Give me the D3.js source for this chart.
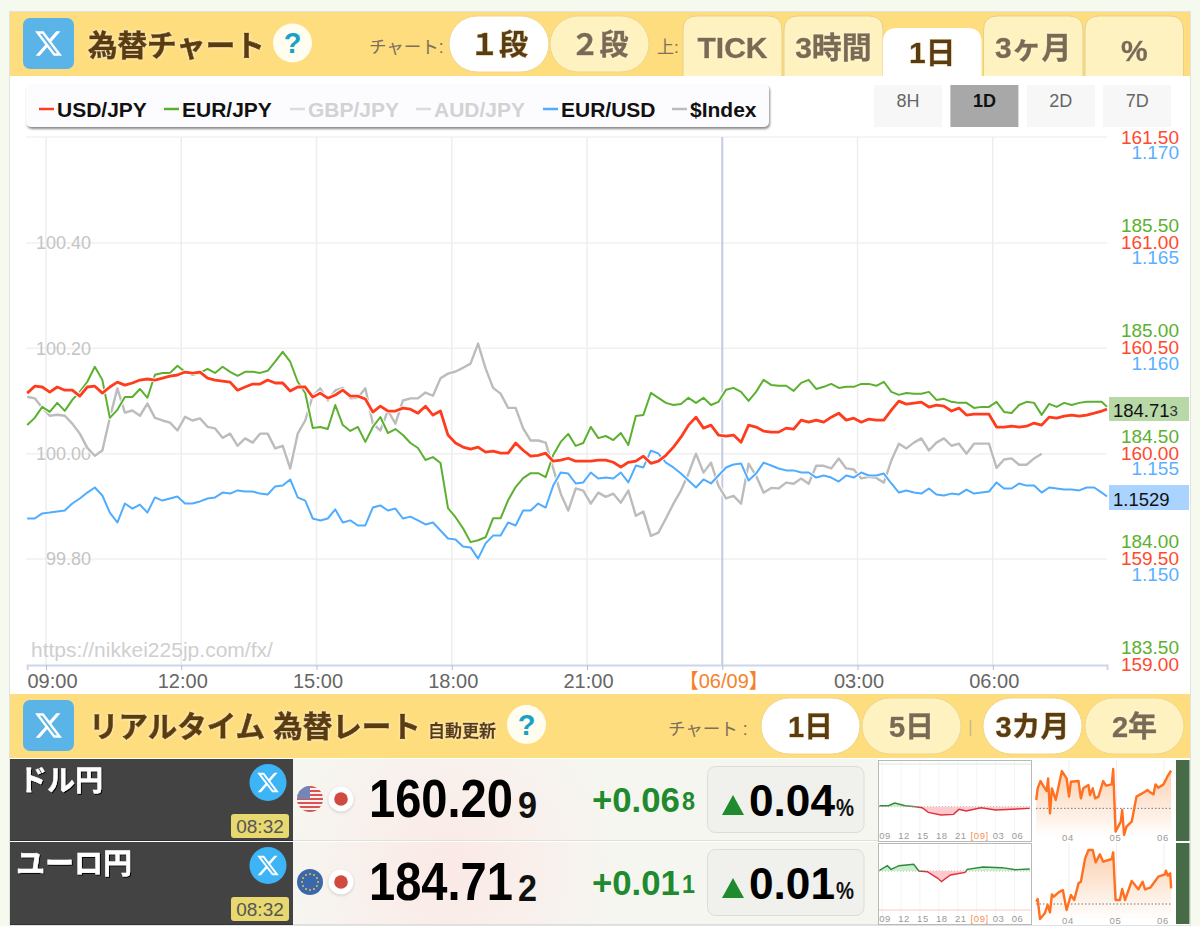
<!DOCTYPE html>
<html lang="ja"><head><meta charset="utf-8"><title>為替チャート</title>
<script src="https://cdn.jsdelivr.net/npm/d3@7"></script>
<style>
html,body{margin:0;padding:0;background:#f5f9ee;overflow:hidden}
svg{display:block}
text{font-family:"Liberation Sans","Noto Sans CJK JP",sans-serif}
</style></head><body><div id="chart"></div>
<script>
// ---------- data ----------
const tickMinutes=[0,180,360,540,720,900,1080,1260];
const tickLabels=["09:00","12:00","15:00","18:00","21:00","【06/09】","03:00","06:00"];
const sampleMinutes=d3.range(-25,1406,10).concat([1412]);
const usdJpy=[160.285,160.318,160.314,160.290,160.314,160.299,160.299,160.271,160.314,160.318,160.285,160.314,160.337,160.323,160.333,160.347,160.352,160.347,160.356,160.366,160.371,160.385,160.380,160.385,160.356,160.347,160.342,160.337,160.299,160.314,160.328,160.328,160.347,160.333,160.333,160.295,160.314,160.314,160.266,160.285,160.261,160.276,160.299,160.271,160.271,160.257,160.195,160.223,160.200,160.200,160.214,160.209,160.190,160.223,160.181,160.200,160.086,160.048,160.029,160.019,160.029,160.005,160.010,160.000,160.000,160.048,160.014,159.986,159.990,160.000,159.962,159.967,159.976,159.962,159.962,159.962,159.967,159.967,159.957,159.934,159.957,159.962,159.986,159.952,159.962,159.990,160.029,160.076,160.133,160.171,160.119,160.133,160.086,160.081,160.086,160.052,160.133,160.124,160.105,160.100,160.100,160.119,160.114,160.157,160.147,160.157,160.147,160.171,160.190,160.157,160.166,160.147,160.162,160.157,160.157,160.204,160.247,160.233,160.238,160.242,160.219,160.228,160.223,160.200,160.214,160.181,160.185,160.185,160.185,160.124,160.124,160.128,160.124,160.128,160.143,160.133,160.171,160.166,160.176,160.181,160.176,160.181,160.190,160.200,160.209];
const eurJpy=[184.552,184.586,184.638,184.614,184.657,184.619,184.671,184.709,184.757,184.828,184.766,184.586,184.624,184.685,184.685,184.723,184.681,184.790,184.799,184.799,184.833,184.804,184.790,184.799,184.818,184.799,184.828,184.804,184.785,184.804,184.804,184.799,184.809,184.852,184.899,184.852,184.757,184.704,184.538,184.543,184.533,184.647,184.552,184.524,184.543,184.472,184.543,184.590,184.514,184.533,184.505,184.467,184.443,184.386,184.400,184.372,184.158,184.115,184.063,183.997,184.006,184.020,184.110,184.110,184.196,184.258,184.300,184.324,184.324,184.305,184.410,184.472,184.510,184.453,184.467,184.543,184.490,184.500,184.481,184.514,184.457,184.595,184.600,184.704,184.681,184.657,184.647,184.652,184.681,184.657,184.681,184.647,184.662,184.719,184.728,184.709,184.666,184.709,184.766,184.742,184.738,184.738,184.714,184.752,184.766,184.723,184.733,184.747,184.728,184.733,184.733,184.747,184.747,184.738,184.757,184.709,184.695,184.704,184.700,184.700,184.709,184.671,184.676,184.662,184.657,184.657,184.633,184.638,184.638,184.662,184.614,184.609,184.647,184.662,184.657,184.600,184.652,184.638,184.657,184.647,184.657,184.662,184.662,184.662,184.638];
const eurUsd=[1.15263,1.15263,1.15287,1.15291,1.15296,1.15301,1.15334,1.15358,1.15386,1.15410,1.15372,1.15291,1.15244,1.15334,1.15310,1.15329,1.15291,1.15363,1.15348,1.15358,1.15367,1.15334,1.15334,1.15344,1.15358,1.15363,1.15386,1.15381,1.15396,1.15391,1.15391,1.15381,1.15377,1.15415,1.15419,1.15448,1.15363,1.15348,1.15263,1.15254,1.15263,1.15306,1.15244,1.15254,1.15230,1.15230,1.15315,1.15325,1.15301,1.15310,1.15263,1.15272,1.15254,1.15235,1.15244,1.15206,1.15168,1.15163,1.15130,1.15126,1.15073,1.15145,1.15182,1.15182,1.15244,1.15230,1.15301,1.15301,1.15334,1.15315,1.15419,1.15481,1.15476,1.15429,1.15434,1.15481,1.15453,1.15457,1.15453,1.15481,1.15434,1.15514,1.15505,1.15585,1.15571,1.15528,1.15505,1.15476,1.15443,1.15410,1.15448,1.15429,1.15467,1.15505,1.15519,1.15524,1.15443,1.15476,1.15528,1.15514,1.15500,1.15491,1.15491,1.15481,1.15481,1.15457,1.15467,1.15457,1.15438,1.15467,1.15457,1.15481,1.15467,1.15467,1.15476,1.15429,1.15386,1.15396,1.15386,1.15381,1.15405,1.15377,1.15372,1.15381,1.15377,1.15400,1.15381,1.15386,1.15391,1.15434,1.15405,1.15405,1.15429,1.15419,1.15419,1.15386,1.15410,1.15405,1.15400,1.15400,1.15396,1.15410,1.15410,1.15386,1.15367];
const dollarIndex=[100.108,100.105,100.087,100.072,100.074,100.072,100.057,100.038,100.011,99.996,100.006,100.068,100.124,100.078,100.082,100.072,100.095,100.068,100.063,100.059,100.044,100.070,100.063,100.067,100.051,100.048,100.030,100.038,100.015,100.029,100.021,100.038,100.038,100.010,100.015,99.972,100.038,100.063,100.110,100.124,100.101,100.120,100.125,100.105,100.106,100.124,100.057,100.044,100.082,100.057,100.101,100.105,100.105,100.116,100.110,100.143,100.152,100.156,100.163,100.171,100.209,100.162,100.125,100.114,100.087,100.087,100.048,100.025,100.025,100.021,99.972,99.924,99.892,99.934,99.930,99.905,99.926,99.918,99.924,99.907,99.930,99.882,99.890,99.844,99.850,99.877,99.905,99.930,99.962,100.000,99.964,99.983,99.939,99.915,99.920,99.905,99.981,99.958,99.926,99.935,99.934,99.945,99.943,99.953,99.943,99.977,99.977,99.972,99.991,99.972,99.970,99.953,99.956,99.954,99.945,99.987,100.019,100.010,100.021,100.029,100.006,100.021,100.029,100.015,100.019,100.000,100.019,100.019,100.019,99.973,99.989,99.991,99.979,99.979,99.991,100.000];
const usdTicks=[159,159.5,160,160.5,161,161.5];
const eurJpyTicks=[183.5,184,184.5,185,185.5];
const eurUsdTicks=[1.15,1.155,1.16,1.165,1.17];
const indexTicks=[99.8,100,100.2,100.4];
const legendNames=["USD/JPY","EUR/JPY","GBP/JPY","AUD/JPY","EUR/USD","$Index"];
const rangeNames=["8H","1D","2D","7D"];
// mini day charts: change from previous close, against minutes from 09:00
const miniMinutes1=[-25,60,120,220,320,380,440,560,680,730,800,940,1080,1405];
const miniChange1=[0.025,0.025,0.092,0.025,0,-0.025,-0.142,-0.208,-0.192,-0.067,-0.108,-0.025,-0.083,-0.042];
const miniMinutes2=[-25,50,85,160,300,350,430,530,565,650,790,810,960,1140,1270,1405];
const miniChange2=[0.017,0.133,0.042,0.133,0.167,0,-0.017,-0.183,-0.267,-0.1,-0.033,0.042,0.1,0.083,0.033,0.05];
const miniTickMinutes=[0,180,360,540,720,900,1080,1260];
const miniTickLabels=["09","12","15","18","21","[09]","03","06"];
// three-month charts: month number and rate
const monthT1=[3.31,3.34,3.40,3.47,3.53,3.56,3.60,3.64,3.72,3.85,3.95,4.00,4.04,4.20,4.25,4.30,4.41,4.44,4.50,4.55,4.62,4.72,4.78,4.90,4.93,4.98,5.09,5.12,5.16,5.21,5.32,5.42,5.60,5.65,5.69,5.78,5.82,5.88,5.99,6.07,6.15];
const monthV1=[156.25,157.82,158.81,158.05,157.46,159.17,154.45,157.82,156.25,160.16,159.17,156.70,158.72,158.81,156.47,157.82,158.27,156.92,157.82,156.47,156.70,158.81,158.18,158.36,160.43,151.97,153.32,154.90,151.52,152.65,153.32,156.70,157.37,157.60,157.37,157.01,158.36,157.91,158.36,159.40,160.21];
const monthT2=[3.31,3.34,3.39,3.49,3.55,3.60,3.64,3.68,3.78,3.87,3.95,4.04,4.11,4.20,4.25,4.34,4.41,4.50,4.56,4.65,4.72,4.90,4.93,4.98,5.07,5.12,5.18,5.32,5.46,5.55,5.60,5.71,5.88,6.02,6.04,6.08,6.13,6.15];
const monthV2=[182.71,183.11,180.11,180.96,182.21,181.11,183.81,183.46,184.11,184.46,181.46,183.71,182.96,185.46,185.71,189.21,190.46,190.46,188.61,189.81,188.71,189.11,190.11,182.96,182.96,184.61,182.96,185.81,184.56,185.71,184.56,184.81,186.46,186.81,187.36,186.61,186.96,184.71];
const monthTicks=[4,5,6];
const monthLabels=["04","05","06"];
const rowNames=["ドル円","ユーロ円"];
const rowPrices=["160.20","184.71"];
const rowPriceLast=["9","2"];
const rowChanges=["+0.06","+0.01"];
const rowChangeLast=["8","1"];
const rowPercents=["0.04","0.01"];
const rowTimes=["08:32","08:32"];

// ---------- palette ----------
const RED="#ff3c1e",GREEN="#5cb030",BLUE="#4facff",GREY="#bcbcbc",BROWN="#5c3a10",CREAM="#fef3c0",YELLOW="#fedd7f";
const xLogo="M18.244 2.25h3.308l-7.227 8.26 8.502 11.24H16.17l-5.214-6.817L4.99 21.75H1.68l7.73-8.835L1.254 2.25H8.08l4.713 6.231zm-1.161 17.52h1.833L7.084 4.126H5.117z";

const svg=d3.select("#chart").append("svg").attr("width",1200).attr("height",926);
const defs=svg.append("defs");
function shadow(id,dx,dy,blur,col){
  const f=defs.append("filter").attr("id",id).attr("x","-20%").attr("y","-30%").attr("width","140%").attr("height","160%");
  f.append("feDropShadow").attr("dx",dx).attr("dy",dy).attr("stdDeviation",blur).attr("flood-color",col);
}
shadow("glow",0,0,1.4,"#fff6d0");
shadow("legendShadow",1,2,1,"#8a8a8a");
shadow("darkShadow",1,1,0.6,"#000");
shadow("softShadow",0,1,1.5,"#c9c9c9");
const pink=defs.append("radialGradient").attr("id","pink").attr("gradientUnits","userSpaceOnUse").attr("cx",450).attr("cy",865).attr("r",170);
pink.append("stop").attr("offset",0).attr("stop-color","#fbe9e6");
pink.append("stop").attr("offset",1).attr("stop-color","#f6f6f1");
const orangeFade=defs.append("linearGradient").attr("id","orangeFade").attr("x1",0).attr("x2",0).attr("y1",0).attr("y2",1);
orangeFade.append("stop").attr("offset",0).attr("stop-color","#fbd0b0");
orangeFade.append("stop").attr("offset",1).attr("stop-color","#ffffff");

function label(g,x,y,t,size,col,opt={}){
  const s=g.append("text").attr("x",x).attr("y",y).attr("dominant-baseline","central")
    .attr("text-anchor",opt.anchor||"middle").attr("font-size",size).attr("fill",col)
    .attr("font-weight",opt.bold?"bold":"normal").attr("filter",opt.filter||null)
    .attr("letter-spacing",opt.ls||null).text(t);
  if(opt.heavy) s.attr("stroke",col).attr("stroke-width",opt.heavy);
  if(opt.len){
    const w=s.node().getComputedTextLength();
    s.attr("transform",`translate(${x},0) scale(${opt.len/w},1) translate(${-x},0)`);
  }
  return s;
}
function xIcon(g,x,y,w,h,r,bg,glyph){
  g.append("rect").attr("x",x).attr("y",y).attr("width",w).attr("height",h).attr("rx",r).attr("fill",bg);
  g.append("path").attr("d",xLogo).attr("fill","#fff").attr("transform",`translate(${x+w/2-glyph*12},${y+h/2-glyph*12}) scale(${glyph})`);
}
function pill(g,x,y,w,h,on,t,size){
  g.append("rect").attr("x",x).attr("y",y).attr("width",w).attr("height",h).attr("rx",h/2)
    .attr("fill",on?"#fff":CREAM).attr("stroke","#f0d68c").attr("stroke-width",1);
  label(g,x+w/2,y+h/2+1,t,size,on?BROWN:"#7a6a55",{bold:true,filter:"url(#glow)",heavy:.5});
}
function helpBubble(g,cx,cy){
  g.append("ellipse").attr("cx",cx).attr("cy",cy).attr("rx",19.5).attr("ry",19.5).attr("fill","#fffdf0");
  label(g,cx,cy,"?",29,"#17a3c9",{bold:true});
}

// ---------- frame ----------
const frame=svg.append("g");
frame.append("rect").attr("x",9.5).attr("y",11.5).attr("width",1181).attr("height",914).attr("fill","#fff").attr("stroke","#e2e2e2");

// ---------- top header ----------
const head=svg.append("g");
head.append("rect").attr("x",10).attr("y",12).attr("width",1180).attr("height",64).attr("fill",YELLOW);
xIcon(head,23,18,51,51,7,"#5ab4e8",1.25);
label(head,88,45,"為替チャート",29.5,BROWN,{anchor:"start",bold:true,filter:"url(#glow)",heavy:.7});
helpBubble(head,292.5,43);
label(head,369,47,"チャート:",17.5,"#7d6f5c",{anchor:"start"});
pill(head,449,16,100,56,true,"１段",29);
pill(head,550,16,99,56,false,"２段",29);
label(head,657,47,"上:",17,"#7d6f5c",{anchor:"start"});
const tabData=[["TICK",683,99,false,47],["3時間",784,99,false,47],["1日",883,98.5,true,52],["3ヶ月",983.5,99.5,false,47],["%",1085,98.5,false,50]];
tabData.forEach(([t,x,w,on,cy])=>{
  const top=on?28:16;
  head.append("path").attr("fill",on?"#fff":CREAM).attr("stroke",on?"none":"#e8cf8a")
    .attr("d",`M${x},76V${top+14}Q${x},${top} ${x+14},${top}H${x+w-14}Q${x+w},${top} ${x+w},${top+14}V76`);
  label(head,x+w/2,cy,t,30,on?BROWN:"#7a6a55",{bold:true,filter:"url(#glow)",heavy:.4});
});

// ---------- legend and range buttons ----------
const leg=svg.append("g");
leg.append("rect").attr("x",26).attr("y",84).attr("width",743).attr("height",43).attr("rx",5).attr("fill","#fcfcff").attr("filter","url(#legendShadow)");
const legendColors=[RED,GREEN,"#dcdcdc","#dcdcdc",BLUE,GREY];
const legendTextColors=["#111","#111","#d2d2d2","#d2d2d2","#111","#111"];
const legendX=[39,164,290,416,543,672];
legendNames.forEach((n,i)=>{
  leg.append("line").attr("x1",legendX[i]).attr("x2",legendX[i]+15).attr("y1",109).attr("y2",109).attr("stroke",legendColors[i]).attr("stroke-width",2.5);
  label(leg,legendX[i]+18,109,n,21,legendTextColors[i],{anchor:"start",bold:true});
});
rangeNames.forEach((n,i)=>{
  const x=874+i*76.4,on=n==="1D";
  leg.append("rect").attr("x",x).attr("y",85).attr("width",68).attr("height",42).attr("fill",on?"#a8a8a8":"#f7f7f7");
  label(leg,x+34,101,n,18,on?"#111":"#666",{bold:on});
});

// ---------- main chart scales ----------
const x=d3.scaleLinear().domain([-25,1412]).range([27.2,1107]);
const yUsd=d3.scaleLinear().domain([159,161.5]).range([664,137]);
const yEurJpy=d3.scaleLinear().domain([183.5,185.5]).range([647,225]);
const yEurUsd=d3.scaleLinear().domain([1.15,1.17]).range([574,152]);
const yIndex=d3.scaleLinear().domain([99.8,100.4]).range([559,243]);

const plot=svg.append("g");
// grid
plot.append("g").selectAll("line").data(indexTicks).join("line")
  .attr("x1",26).attr("x2",1107).attr("y1",d=>yIndex(d)).attr("y2",d=>yIndex(d)).attr("stroke","#f0f0f0").attr("stroke-width",1.5);
plot.append("line").attr("x1",26).attr("x2",1107).attr("y1",137).attr("y2",137).attr("stroke","#f2f2f2").attr("stroke-width",1.5);
plot.append("g").selectAll("line").data(tickMinutes).join("line")
  .attr("x1",d=>x(d)).attr("x2",d=>x(d)).attr("y1",137).attr("y2",665)
  .attr("stroke",d=>d===900?"#c3cbdf":"#eeeeee").attr("stroke-width",d=>d===900?2:1.5);
label(plot,31,650,"https://nikkei225jp.com/fx/",20,"#cfcfcf",{anchor:"start",len:242});

// x axis
const xAxis=plot.append("g").attr("transform","translate(0,665)")
  .call(d3.axisBottom(x).tickValues(tickMinutes).tickFormat((d,i)=>tickLabels[i]).tickSize(5).tickPadding(4));
xAxis.select(".domain").attr("stroke","#ccd6eb").attr("stroke-width",2);
xAxis.selectAll(".tick line").attr("stroke","#b5bfd2");
xAxis.selectAll("text").attr("font-size",20).attr("font-family",'"Liberation Sans","Noto Sans CJK JP",sans-serif')
  .attr("dx",(d,i)=>i===0?6:1).attr("fill",(d,i)=>i===5?"#f5822a":"#666");

// y axes
function yAxis(scale,ticks,fmt,col,px,anchor,size){
  const ax=(anchor==="left"?d3.axisLeft(scale):d3.axisRight(scale)).tickValues(ticks).tickFormat(d3.format(fmt)).tickSize(0).tickPadding(0);
  const g=plot.append("g").attr("transform",`translate(${px},0)`).call(ax);
  g.select(".domain").remove();
  g.selectAll("text").attr("font-size",size).attr("fill",col).attr("text-anchor","end").attr("x",0)
    .attr("font-family",'"Liberation Sans",sans-serif');
}
yAxis(yIndex,indexTicks,".2f","#c4c4c4",91,"left",18);
yAxis(yEurJpy,eurJpyTicks,".2f","#5cb030",1179,"right",19);
yAxis(yUsd,usdTicks,".2f","#ff4a30",1179,"right",19);
yAxis(yEurUsd,eurUsdTicks,".3f","#5ab0ff",1179,"right",19);

// series
function series(values,scale,col,w){
  const line=d3.line().x((d,i)=>x(sampleMinutes[i])).y(d=>scale(d));
  plot.append("path").attr("d",line(values)).attr("fill","none").attr("stroke","#fff").attr("stroke-width",w+1.8).attr("stroke-linejoin","round");
  plot.append("path").attr("d",line(values)).attr("fill","none").attr("stroke",col).attr("stroke-width",w).attr("stroke-linejoin","round");
}
series(dollarIndex,yIndex,GREY,2.4);
series(eurUsd,yEurUsd,BLUE,2);
series(eurJpy,yEurJpy,GREEN,2);
series(usdJpy,yUsd,RED,2.8);

// price boxes
[[397,24,"#b8d8a8","184.71","3"],[485,25,"#aad4ff","1.1529",""]].forEach(([y0,h,bg,a,b])=>{
  plot.append("rect").attr("x",1109).attr("y",y0).attr("width",80).attr("height",h).attr("fill",bg);
  const t=plot.append("text").attr("x",1113).attr("y",y0+h/2+1).attr("dominant-baseline","central").attr("font-size",18.5).attr("fill","#111");
  t.append("tspan").text(a);
  if(b) t.append("tspan").attr("font-size",15).attr("fill","#333").text(b);
});

// ---------- second header ----------
const head2=svg.append("g");
head2.append("rect").attr("x",10).attr("y",694).attr("width",1180).attr("height",64).attr("fill",YELLOW);
xIcon(head2,23,700,51,51,7,"#5ab4e8",1.25);
label(head2,89,726,"リアルタイム 為替レート",29.5,BROWN,{anchor:"start",bold:true,filter:"url(#glow)",heavy:.7});
label(head2,428,731,"自動更新",17,BROWN,{anchor:"start",bold:true,filter:"url(#glow)",heavy:.3});
helpBubble(head2,526.5,724.5);
label(head2,668,729,"チャート :",17.5,"#7d6f5c",{anchor:"start"});
pill(head2,761,698,99,56,true,"1日",29);
pill(head2,862,698,99,56,false,"5日",29);
head2.append("line").attr("x1",970.5).attr("x2",970.5).attr("y1",720).attr("y2",736).attr("stroke","#c9b98a").attr("stroke-width",1.5);
pill(head2,983,698,99,56,true,"3カ月",29);
pill(head2,1085,698,99,56,false,"2年",29);

// ---------- rate rows ----------
function flagJp(g,cx,cy){
  g.append("circle").attr("cx",cx).attr("cy",cy).attr("r",12.5).attr("fill","#fff").attr("filter","url(#softShadow)");
  g.append("circle").attr("cx",cx).attr("cy",cy).attr("r",6.8).attr("fill","#d04a40");
}
function flagUs(g,cx,cy,id){
  defs.append("clipPath").attr("id",id).append("circle").attr("cx",cx).attr("cy",cy).attr("r",13);
  const f=g.append("g").attr("clip-path",`url(#${id})`);
  f.append("rect").attr("x",cx-13).attr("y",cy-13).attr("width",26).attr("height",26).attr("fill","#f6f0f0");
  d3.range(7).forEach(i=>f.append("rect").attr("x",cx-13).attr("y",cy-13+i*4).attr("width",26).attr("height",2).attr("fill","#d9534f"));
  f.append("rect").attr("x",cx-13).attr("y",cy-13).attr("width",13).attr("height",13).attr("fill","#7386b8");
}
function flagEu(g,cx,cy){
  g.append("circle").attr("cx",cx).attr("cy",cy).attr("r",13).attr("fill","#3a68ab");
  d3.range(12).forEach(i=>g.append("circle").attr("cx",cx+8*Math.cos(i*Math.PI/6)).attr("cy",cy+8*Math.sin(i*Math.PI/6)).attr("r",1).attr("fill","#e3c243"));
}

const rowTop=[759,842];
rowTop.forEach((y0,i)=>{
  const g=svg.append("g");
  const h=i===0?82:83;
  g.append("rect").attr("x",293).attr("y",y0).attr("width",585).attr("height",h).attr("fill","url(#pink)");
  g.append("line").attr("x1",293).attr("x2",878).attr("y1",y0+h-.5).attr("y2",y0+h-.5).attr("stroke","#dededa");
  g.append("rect").attr("x",10).attr("y",y0).attr("width",283).attr("height",h).attr("fill","#434343");
  g.append("line").attr("x1",10).attr("x2",293).attr("y1",y0+h-.5).attr("y2",y0+h-.5).attr("stroke","#333");
  label(g,i===0?19:16,y0+22,rowNames[i],29,"#fff",{anchor:"start",bold:true,filter:"url(#darkShadow)",heavy:.4,len:i===0?84:116});
  g.append("circle").attr("cx",268).attr("cy",y0+23.5).attr("r",18.5).attr("fill","#3db4f5");
  g.append("path").attr("d",xLogo).attr("fill","#fff").attr("transform",`translate(${268-12},${y0+23.5-12}) scale(1)`);
  g.append("rect").attr("x",231).attr("y",y0+55).attr("width",58).attr("height",24).attr("rx",3).attr("fill","#e8d870");
  label(g,260,y0+67.5,rowTimes[i],19,"#555");
  const cy=y0+40;
  if(i===0) flagUs(g,310,cy,"usClip"); else flagEu(g,310,cy);
  flagJp(g,341,cy);
  label(g,369,cy,rowPrices[i],53,"#000",{anchor:"start",bold:true,len:144});
  label(g,518,cy+6,rowPriceLast[i],36,"#111",{anchor:"start",bold:true,len:19});
  label(g,592,cy,rowChanges[i],35,"#1f8a2e",{anchor:"start",bold:true,len:88});
  label(g,682,cy+2,rowChangeLast[i],25,"#1f8a2e",{anchor:"start",bold:true,len:13});
  g.append("rect").attr("x",707.5).attr("y",y0+7.5).attr("width",156.5).attr("height",66).attr("rx",8).attr("fill","#f0f0ec").attr("stroke","#dcdcd8");
  g.append("path").attr("d",`M722,${y0+56}L733,${y0+36}L744,${y0+56}Z`).attr("fill","#1f8a2e");
  label(g,749,y0+41,rowPercents[i],45,"#000",{anchor:"start",bold:true,len:86});
  label(g,836,y0+49,"%",24,"#111",{anchor:"start",bold:true,len:18});
});

// ---------- mini day charts ----------
const miniX=d3.scaleLinear().domain([-25,1412]).range([879.5,1030.5]);
function dayChart(i,y0,h,base,mins,chg){
  const g=svg.append("g");
  const y=d3.scaleLinear().domain([-1,1]).range([base+40,base-40]);
  g.append("rect").attr("x",878.5).attr("y",y0+.5).attr("width",153).attr("height",h).attr("fill","#fff").attr("stroke","#b9b9b9");
  g.selectAll("line.v").data(miniTickMinutes).join("line").attr("class","v")
    .attr("x1",d=>miniX(d)).attr("x2",d=>miniX(d)).attr("y1",y0+1).attr("y2",y0+h-1).attr("stroke","#f4f4f4");
  const top=i===0?y0+4:y0+h-14;
  g.append("line").attr("x1",879).attr("x2",1031).attr("y1",top).attr("y2",top).attr("stroke",i===0?"#e4f2e4":"#fbdcdc").attr("stroke-width",1.5);
  g.append("line").attr("x1",879).attr("x2",1031).attr("y1",base).attr("y2",base).attr("stroke","#aaa").attr("stroke-dasharray","1,2");
  const area=d3.area().x((d,k)=>miniX(mins[k])).y0(y(0)).y1(d=>y(d));
  const line=d3.line().x((d,k)=>miniX(mins[k])).y(d=>y(d));
  const upId="up"+i,dnId="dn"+i;
  defs.append("clipPath").attr("id",upId).append("rect").attr("x",878).attr("y",y0).attr("width",154).attr("height",base-y0);
  defs.append("clipPath").attr("id",dnId).append("rect").attr("x",878).attr("y",base).attr("width",154).attr("height",y0+h-base);
  g.append("path").attr("d",area(chg)).attr("fill","#cdeecd").attr("clip-path",`url(#${upId})`);
  g.append("path").attr("d",area(chg)).attr("fill","#ffc9ce").attr("clip-path",`url(#${dnId})`);
  g.append("path").attr("d",line(chg)).attr("fill","none").attr("stroke","#2b8a3e").attr("stroke-width",1.4).attr("clip-path",`url(#${upId})`);
  g.append("path").attr("d",line(chg)).attr("fill","none").attr("stroke","#e0303e").attr("stroke-width",1.4).attr("clip-path",`url(#${dnId})`);
  miniTickLabels.forEach((t,k)=>{
    label(g,miniX(miniTickMinutes[k])+3,y0+h-6,t,9.5,k===5?"#f5925a":"#9a9a9a",{ls:.6});
  });
}
dayChart(0,760,81,806.7,miniMinutes1,miniChange1);
dayChart(1,843,81,871,miniMinutes2,miniChange2);

// ---------- three-month charts ----------
const monthX=d3.scaleLinear().domain([4,6]).range([1069,1164]);
function monthChart(y0,h,t,v,yDomain,yRange,dotted){
  const g=svg.append("g");
  const y=d3.scaleLinear().domain(yDomain).range(yRange);
  g.append("rect").attr("x",1033).attr("y",y0).attr("width",142).attr("height",h).attr("fill","#fff");
  g.selectAll("line.v").data(monthTicks).join("line").attr("class","v")
    .attr("x1",d=>monthX(d)).attr("x2",d=>monthX(d)).attr("y1",y0).attr("y2",y0+h).attr("stroke","#efefef");
  const area=d3.area().x((d,k)=>monthX(t[k])).y0(y0+h-4).y1(d=>y(d));
  const line=d3.line().x((d,k)=>monthX(t[k])).y(d=>y(d));
  g.append("path").attr("d",area(v)).attr("fill","url(#orangeFade)");
  g.append("line").attr("x1",1036).attr("x2",1172).attr("y1",y(dotted)).attr("y2",y(dotted)).attr("stroke","#777").attr("stroke-dasharray","1.5,2");
  g.append("path").attr("d",line(v)).attr("fill","none").attr("stroke","#ff7020").attr("stroke-width",2.4).attr("stroke-linejoin","round");
  monthLabels.forEach((l,k)=>label(g,monthX(monthTicks[k])-1,y0+h-4,l,9.5,"#9a9a9a",{ls:.6}));
  g.append("rect").attr("x",1176).attr("y",y0).attr("width",13.5).attr("height",h).attr("fill","#476b47");
}
monthChart(760,81,monthT1,monthV1,[151.52,160.21],[835,770.67],155.12);
monthChart(843,81,monthT2,monthV2,[180.11,190.46],[919,850],182.36);
</script></body></html>
